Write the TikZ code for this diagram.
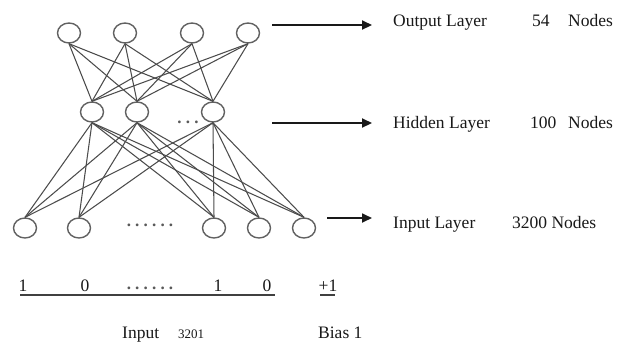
\documentclass[tikz,border=0pt]{standalone}
\usepackage{fontspec}
\setmainfont{Liberation Serif}
\usetikzlibrary{shapes.geometric,arrows.meta}
\begin{document}
\begin{tikzpicture}[x=1pt,y=-1pt,
  neuron/.style={draw=black!62, line width=1.4pt, ellipse, minimum width=23pt, minimum height=20pt, inner sep=0pt},
  link/.style={draw=black!70, line width=1.05pt},
  layerarrow/.style={draw=black!90, line width=2.2pt, -{Triangle[length=10pt,width=9pt]}},
  lbl/.style={anchor=base west, inner sep=0pt, font=\fontsize{17.5}{20}\selectfont, text=black!90},
  digit/.style={anchor=base, inner sep=0pt, font=\fontsize{17.5}{20}\selectfont, text=black!90},
  dots/.style={anchor=center, inner sep=0pt, font=\fontsize{17}{20}\selectfont\bfseries, text=black!65},
  ]
\useasboundingbox[fill=white] (0,0) rectangle (633,349);

% output layer
\node[neuron] (o1) at (69,33) {};
\node[neuron] (o2) at (125,33) {};
\node[neuron] (o3) at (192,33) {};
\node[neuron] (o4) at (248,33) {};
% hidden layer
\node[neuron] (h1) at (92,112) {};
\node[neuron] (h2) at (137,112) {};
\node[neuron] (h3) at (213,112) {};
\node[dots] (hd) at (188,122) {.\hspace{4.2pt}.\hspace{4.2pt}.};
% input layer
\node[neuron] (in1) at (25,228) {};
\node[neuron] (in2) at (79,228) {};
\node[neuron] (in3) at (214,228) {};
\node[neuron] (in4) at (259,228) {};
\node[neuron] (in5) at (304,228) {};
\node[dots] (idots) at (150,225) {.\hspace{4.2pt}.\hspace{4.2pt}.\hspace{4.2pt}.\hspace{4.2pt}.\hspace{4.2pt}.};

% connections
\foreach \i in {1,...,4}
  \foreach \j in {1,2,3}
    \draw[link] (o\i.south) -- (h\j.north);
\foreach \i in {1,2,3}
  \foreach \j in {1,...,5}
    \draw[link] (h\i.south) -- (in\j.north);

% arrows
\coordinate (a1s) at (272,25);  \coordinate (a1e) at (372,25);
\coordinate (a2s) at (272,123); \coordinate (a2e) at (372,123);
\coordinate (a3s) at (327,218); \coordinate (a3e) at (372,218);
\draw[layerarrow] (a1s) -- (a1e);
\draw[layerarrow] (a2s) -- (a2e);
\draw[layerarrow, line width=1.7pt] (a3s) -- (a3e);

% labels
\node[lbl] (t1a) at (393,26) {Output Layer};
\node[lbl] (t1b) at (532,26) {54};
\node[lbl] (t1c) at (568,26) {Nodes};
\node[lbl] (t2a) at (393,128) {Hidden Layer};
\node[lbl] (t2b) at (530,128) {100};
\node[lbl] (t2c) at (568,128) {Nodes};
\node[lbl] (t3a) at (393,228) {Input Layer};
\node[lbl] (t3b) at (512,228) {3200 Nodes};

% bottom values
\node[digit] (b1) at (23,291) {1};
\node[digit] (b2) at (85,291) {0};
\node[dots] (b3) at (150,288) {.\hspace{4.2pt}.\hspace{4.2pt}.\hspace{4.2pt}.\hspace{4.2pt}.\hspace{4.2pt}.};
\node[digit] (b4) at (218,291) {1};
\node[digit] (b5) at (267,291) {0};
\node[digit] (b6) at (328,291) {+1};
\coordinate (u1s) at (20,295); \coordinate (u1e) at (275,295);
\coordinate (u2s) at (320,295); \coordinate (u2e) at (335,295);
\draw[black!75, line width=1.1pt] (u1s) -- (u1e);
\draw[black!75, line width=1.1pt] (u2s) -- (u2e);

\node[lbl] (in) at (122,338) {Input};
\node[lbl, font=\fontsize{13}{16}\selectfont] (n3201) at (178,338) {3201};
\node[lbl] (bias) at (318,338) {Bias 1};
\end{tikzpicture}
\end{document}
